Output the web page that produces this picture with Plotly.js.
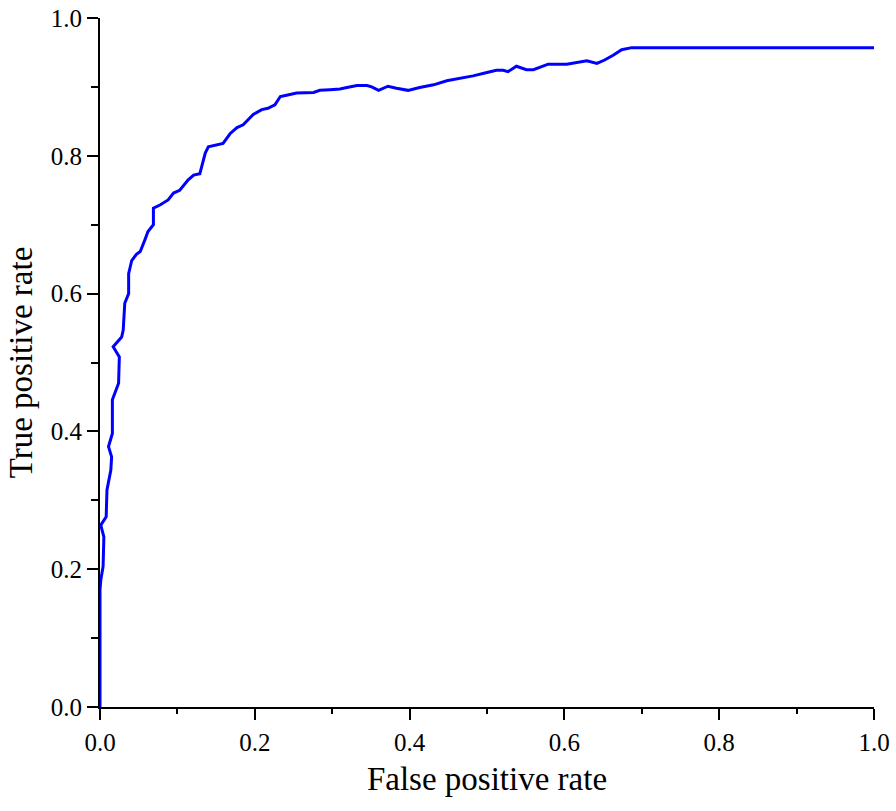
<!DOCTYPE html>
<html>
<head>
<meta charset="utf-8">
<script src="https://cdn.plot.ly/plotly-3.0.1.min.js"></script>
<style>
  body { margin: 0; background: #fff; }
  #roc { width: 896px; height: 811px; }
</style>
</head>
<body>
<div id="roc"></div>
<script>
// ROC curve points
var fpr = [0, 0, 0.001, 0.004, 0.005, 0.001, 0.008, 0.009, 0.014, 0.015, 0.011, 0.016, 0.016,
  0.019, 0.024, 0.025, 0.017, 0.028, 0.030, 0.032, 0.037, 0.037, 0.041, 0.047, 0.052, 0.058,
  0.062, 0.069, 0.069, 0.078, 0.088, 0.095, 0.103, 0.114, 0.121, 0.129, 0.136, 0.140, 0.159,
  0.168, 0.177, 0.185, 0.198, 0.209, 0.217, 0.226, 0.233, 0.241, 0.254, 0.276, 0.284, 0.297,
  0.310, 0.319, 0.332, 0.345, 0.351, 0.360, 0.372, 0.383, 0.398, 0.413, 0.431, 0.448, 0.465,
  0.482, 0.500, 0.512, 0.521, 0.527, 0.538, 0.551, 0.560, 0.579, 0.603, 0.616, 0.629, 0.642,
  0.652, 0.663, 0.674, 0.687, 0.75, 0.85, 1.0];
var tpr = [0, 0.17, 0.184, 0.204, 0.247, 0.264, 0.276, 0.315, 0.344, 0.363, 0.378, 0.397, 0.446,
  0.455, 0.470, 0.508, 0.523, 0.537, 0.547, 0.586, 0.600, 0.629, 0.648, 0.657, 0.661, 0.678,
  0.690, 0.700, 0.724, 0.729, 0.736, 0.746, 0.750, 0.765, 0.772, 0.774, 0.804, 0.813, 0.818,
  0.832, 0.841, 0.845, 0.860, 0.867, 0.869, 0.874, 0.886, 0.888, 0.891, 0.892, 0.895, 0.896,
  0.897, 0.899, 0.902, 0.902, 0.900, 0.895, 0.901, 0.898, 0.895, 0.899, 0.903, 0.909, 0.912,
  0.916, 0.921, 0.924, 0.924, 0.922, 0.930, 0.925, 0.925, 0.933, 0.933, 0.936, 0.938, 0.934,
  0.939, 0.946, 0.954, 0.957, 0.957, 0.957, 0.957];

var tickVals = [0, 0.2, 0.4, 0.6, 0.8, 1.0];
var tickText = ["0.0", "0.2", "0.4", "0.6", "0.8", "1.0"];

var trace = {
  x: fpr,
  y: tpr,
  type: "scatter",
  mode: "lines",
  line: {color: "#0000ff", width: 3},
  hoverinfo: "skip"
};

// shared axis look: left/bottom lines only, outside ticks with minor ticks
function axis(title, minorLen) {
  return {
    range: [0, 1],
    tickmode: "array",
    tickvals: tickVals,
    ticktext: tickText,
    ticks: "outside",
    ticklen: 11,
    tickwidth: 2,
    tickcolor: "#000",
    minor: {ticks: "outside", ticklen: minorLen, tickwidth: 2, tickcolor: "#000", dtick: 0.1, tick0: 0},
    showline: true,
    linewidth: 2,
    linecolor: "#000",
    showgrid: false,
    zeroline: false,
    layer: "above traces",
    tickfont: {family: "Liberation Serif, serif", size: 25, color: "#000"},
    title: {text: title, font: {family: "Liberation Serif, serif", size: 33, color: "#000"}}
  };
}

var xa = axis("False positive rate", 5);
xa.ticklabelstandoff = 1;
xa.title.standoff = 12;
var ya = axis("True positive rate", 7);
ya.title.standoff = 8;

var layout = {
  width: 896,
  height: 811,
  margin: {l: 100, r: 22, t: 18, b: 104},
  font: {family: "Liberation Serif, serif", size: 25, color: "#000"},
  paper_bgcolor: "#fff",
  plot_bgcolor: "#fff",
  showlegend: false,
  xaxis: xa,
  yaxis: ya
};

Plotly.newPlot("roc", [trace], layout, {displayModeBar: false, staticPlot: true});
</script>
</body>
</html>
